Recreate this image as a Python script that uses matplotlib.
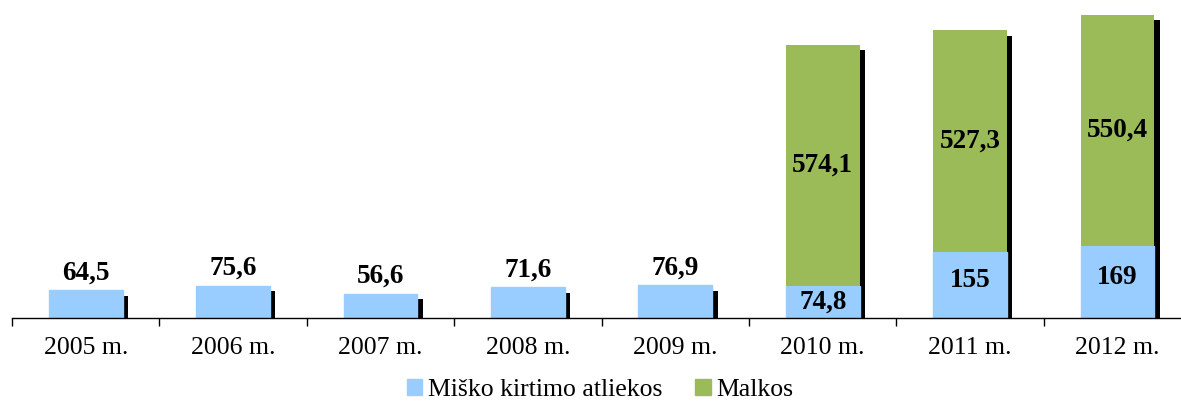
import matplotlib
matplotlib.use("Agg")
import matplotlib.pyplot as plt
from matplotlib.patches import Patch
import numpy as np

years = ["2005 m.", "2006 m.", "2007 m.", "2008 m.", "2009 m.", "2010 m.", "2011 m.", "2012 m."]
residues = [64.5, 75.6, 56.6, 71.6, 76.9, 74.8, 155, 169]
firewood = [0, 0, 0, 0, 0, 574.1, 527.3, 550.4]
residue_labels = ["64,5", "75,6", "56,6", "71,6", "76,9", "74,8", "155", "169"]
firewood_labels = ["", "", "", "", "", "574,1", "527,3", "550,4"]
series_names = ["Miško kirtimo atliekos", "Malkos"]

BLUE = "#99CCFF"
GREEN = "#9BBB59"

plt.rcParams['font.family'] = ['Liberation Serif', 'DejaVu Serif']

W, H = 1181, 401
fig = plt.figure(figsize=(W / 100, H / 100), dpi=100)
ax_left_px, ax_bottom_px = 12, 317.5
cat_px = 147.4
ax = fig.add_axes([ax_left_px / W, (H - ax_bottom_px) / H, 8 * cat_px / W, ax_bottom_px / H])
px_per_unit = 0.4207
ymax = ax_bottom_px / px_per_unit
ax.set_xlim(-0.5, 7.5)
ax.set_ylim(0, ymax)

x = np.arange(len(years))
width = 0.5
res = np.array(residues)
fw = np.array(firewood)

# shadows
dx = 5.5 / cat_px
dy = 5.5 / px_per_unit
ax.bar(x + dx, res, width=width, bottom=-dy, color="black", zorder=1)
mask = fw > 0
ax.bar(x[mask] + dx, fw[mask], width=width, bottom=res[mask] - dy, color="black", zorder=1)

# bars
ax.bar(x, res, width=width, color=BLUE, edgecolor=BLUE, linewidth=1, zorder=2)
ax.bar(x[mask], fw[mask], width=width, bottom=res[mask], color=GREEN, zorder=2)

LBL = 19.5
# labels
for i in range(len(years)):
    if fw[i] > 0:
        ax.annotate(residue_labels[i], (x[i], res[i] / 2), xytext=(0, 3 if res[i] > 100 else 0),
                    textcoords="offset points", ha="center", va="center",
                    fontsize=LBL, fontweight="bold", zorder=3)
        ax.annotate(firewood_labels[i], (x[i], res[i] + fw[i] / 2), ha="center", va="center",
                    fontsize=LBL, fontweight="bold", zorder=3)
    else:
        ax.annotate(residue_labels[i], (x[i], res[i]), xytext=(0, 3.5),
                    textcoords="offset points", ha="center", va="bottom",
                    fontsize=LBL, fontweight="bold", zorder=3)

for s in ["left", "right", "top"]:
    ax.spines[s].set_visible(False)
ax.spines["bottom"].set_linewidth(1)
ax.set_yticks([])
ax.set_xticks(np.arange(-0.5, 8, 1))
ax.set_xticklabels([])
ax.tick_params(axis="x", which="major", length=6, width=1, direction="out")
ax.set_xticks(x, minor=True)
ax.set_xticklabels(years, minor=True, fontsize=18.5)
ax.tick_params(axis="x", which="minor", length=0, pad=14)

handles = [Patch(facecolor=BLUE, edgecolor=BLUE), Patch(facecolor=GREEN, edgecolor=GREEN)]
fig.legend(handles, series_names, loc="center", bbox_to_anchor=(600 / W, (H - 390) / H),
           ncol=2, frameon=False, fontsize=18.5, handlelength=0.62, handleheight=0.62,
           handletextpad=0.2, columnspacing=1.3, borderpad=0)

fig.savefig("out.png", dpi=100)
